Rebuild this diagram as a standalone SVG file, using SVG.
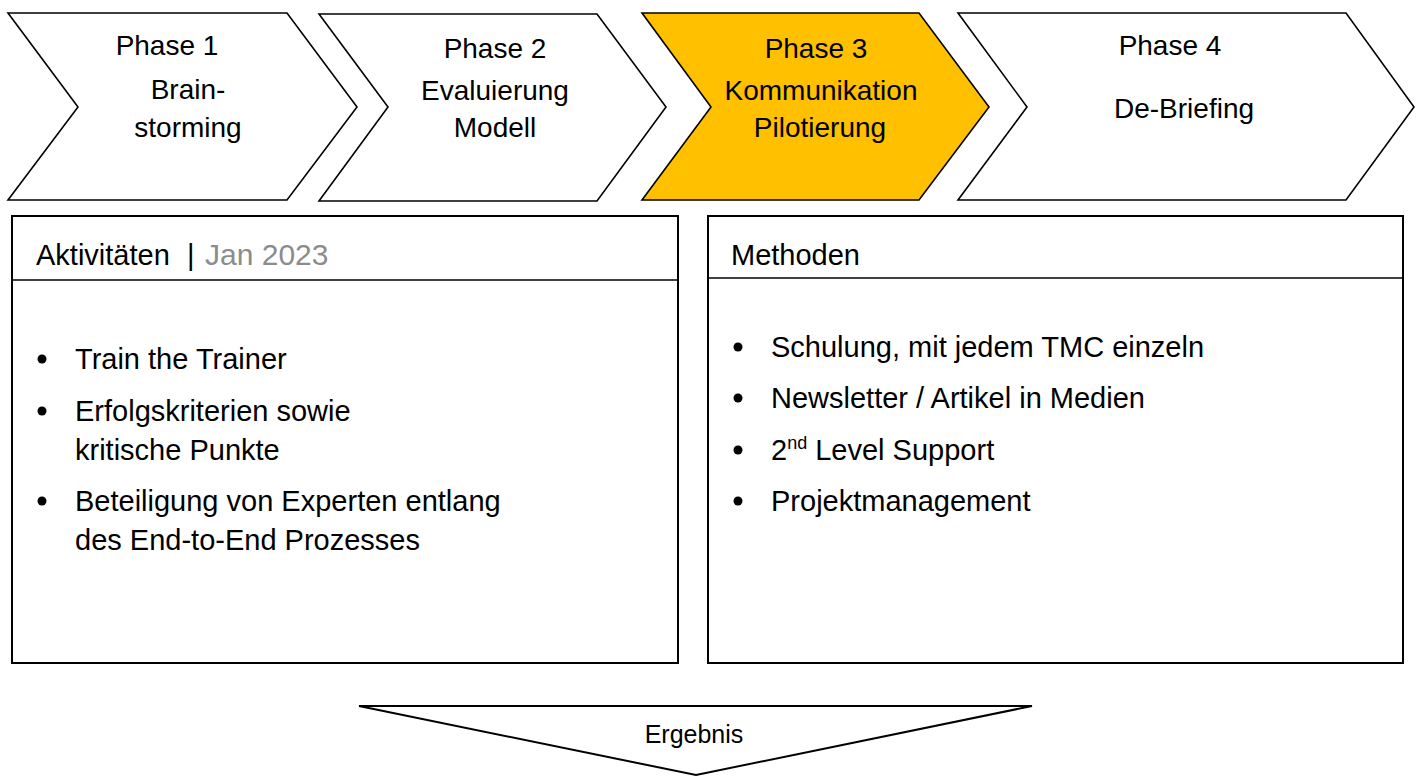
<svg xmlns="http://www.w3.org/2000/svg" width="1422" height="777" viewBox="0 0 1422 777">
<style>
.chev{fill:#ffffff;stroke:#000;stroke-width:1.6;stroke-linejoin:miter}
.hl{fill:#FFC000}
.t{font-family:"Liberation Sans",Arial,sans-serif;font-size:28px;fill:#000}
.c{text-anchor:middle}
.box{fill:#fff;stroke:#000;stroke-width:2}
.hd{font-family:"Liberation Sans",Arial,sans-serif;font-size:29px;fill:#000}
.gray{fill:#8c8c8c;font-size:30px}
.li{font-family:"Liberation Sans",Arial,sans-serif;font-size:29px;fill:#000}
.er{font-family:"Liberation Sans",Arial,sans-serif;font-size:25px;fill:#000}
</style>
<g id="phase1">
<polygon class="chev" points="8,13 287,13 357,107 287,200 8,200 78,107"/>
<text class="t c" x="167" y="55">Phase 1</text>
<text class="t c" x="188" y="99">Brain-</text>
<text class="t c" x="188" y="137">storming</text>
</g>
<g id="phase2">
<polygon class="chev" points="319,14 597,14 666,107 597,201 319,201 388,107"/>
<text class="t c" x="495" y="58">Phase 2</text>
<text class="t c" x="495" y="100">Evaluierung</text>
<text class="t c" x="495" y="137">Modell</text>
</g>
<g id="phase3">
<polygon class="chev hl" points="642,13 919,13 989,107 919,200 642,200 711,107"/>
<text class="t c" x="816" y="58">Phase 3</text>
<text class="t c" x="821" y="100">Kommunikation</text>
<text class="t c" x="820" y="137">Pilotierung</text>
</g>
<g id="phase4">
<polygon class="chev" points="958,13 1346,13 1414,107 1346,200 958,200 1027,107"/>
<text class="t c" x="1170" y="55">Phase 4</text>
<text class="t c" x="1184" y="118">De-Briefing</text>
</g>
<g id="aktivitaeten">
<rect class="box" x="12" y="216" width="666" height="447"/>
<line x1="12" y1="280" x2="678" y2="280" stroke="#000" stroke-width="1.5"/>
<text class="hd" x="36" y="265">Aktivitäten<tspan x="187">|</tspan><tspan class="gray" x="205">Jan 2023</tspan></text>
<circle cx="42" cy="359" r="4.5"/>
<text class="li" x="75" y="369">Train the Trainer</text>
<circle cx="42" cy="411" r="4.5"/>
<text class="li" x="75" y="421">Erfolgskriterien sowie</text>
<text class="li" x="75" y="460">kritische Punkte</text>
<circle cx="42" cy="501" r="4.5"/>
<text class="li" x="75" y="511">Beteiligung von Experten entlang</text>
<text class="li" x="75" y="550">des End-to-End Prozesses</text>
</g>
<g id="methoden">
<rect class="box" x="708" y="216" width="695" height="447"/>
<line x1="708" y1="278" x2="1403" y2="278" stroke="#000" stroke-width="1.5"/>
<text class="hd" x="731" y="265">Methoden</text>
<circle cx="738" cy="347" r="4.5"/>
<text class="li" x="771" y="357">Schulung, mit jedem TMC einzeln</text>
<circle cx="738" cy="398" r="4.5"/>
<text class="li" x="771" y="408">Newsletter / Artikel in Medien</text>
<circle cx="738" cy="450" r="4.5"/>
<text class="li" x="771" y="460">2<tspan font-size="18" dy="-11">nd</tspan><tspan dy="11"> Level Support</tspan></text>
<circle cx="738" cy="501" r="4.5"/>
<text class="li" x="771" y="511">Projektmanagement</text>
</g>
<g id="ergebnis">
<polygon class="box" points="359,706 1032,706 696,775"/>
<text class="er c" x="694" y="743">Ergebnis</text>
</g>
<g id="connectors"></g>
</svg>
